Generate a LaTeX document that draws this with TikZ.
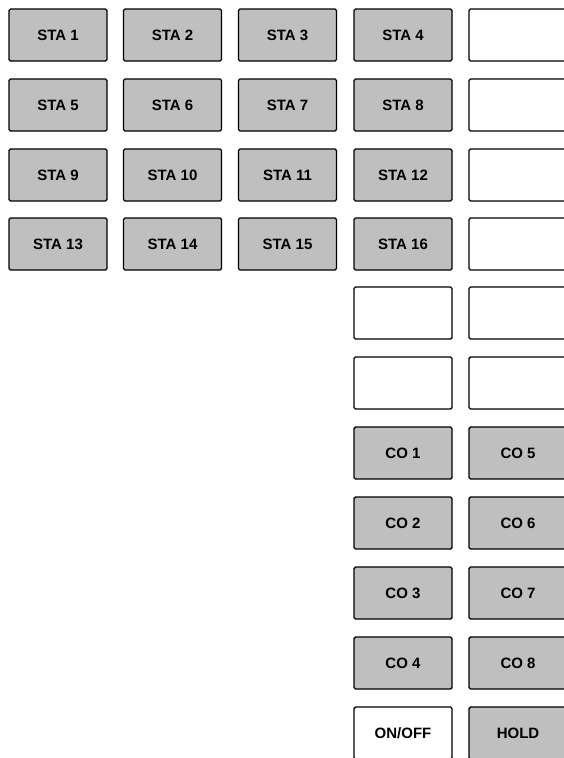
\documentclass[tikz,border=0pt]{standalone}
\usepackage{fontspec}
\setsansfont{Liberation Sans}
\usepackage{tikz}

\begin{document}
\begin{tikzpicture}[x=1pt,y=-1pt]

    \clip (0,0) rectangle (564,758);
    \tikzstyle{every node}=[draw,rectangle,rounded corners=1.5pt,line width=1.4pt,minimum width=98pt,minimum height=52pt,inner sep=0pt,font=\sffamily\bfseries\fontsize{15}{15}\selectfont]
    \tikzstyle{key}=[fill=black!25]
    \tikzstyle{blank}=[fill=white]

    % station keys
    \node[key](sta1) at (58,35){STA 1};
    \node[key](sta2) at (172.5,35){STA 2};
    \node[key](sta3) at (287.5,35){STA 3};
    \node[key](sta4) at (403,35){STA 4};
    \node[blank](b1) at (518,35){};

    \node[key](sta5) at (58,105){STA 5};
    \node[key](sta6) at (172.5,105){STA 6};
    \node[key](sta7) at (287.5,105){STA 7};
    \node[key](sta8) at (403,105){STA 8};
    \node[blank](b2) at (518,105){};

    \node[key](sta9) at (58,175){STA 9};
    \node[key](sta10) at (172.5,175){STA 10};
    \node[key](sta11) at (287.5,175){STA 11};
    \node[key](sta12) at (403,175){STA 12};
    \node[blank](b3) at (518,175){};

    \node[key](sta13) at (58,244){STA 13};
    \node[key](sta14) at (172.5,244){STA 14};
    \node[key](sta15) at (287.5,244){STA 15};
    \node[key](sta16) at (403,244){STA 16};
    \node[blank](b4) at (518,244){};

    % spare keys
    \node[blank](b5) at (403,313){};
    \node[blank](b6) at (518,313){};
    \node[blank](b7) at (403,383){};
    \node[blank](b8) at (518,383){};

    % trunk keys
    \node[key](co1) at (403,453){CO 1};
    \node[key](co5) at (518,453){CO 5};
    \node[key](co2) at (403,523){CO 2};
    \node[key](co6) at (518,523){CO 6};
    \node[key](co3) at (403,593){CO 3};
    \node[key](co7) at (518,593){CO 7};
    \node[key](co4) at (403,663){CO 4};
    \node[key](co8) at (518,663){CO 8};

    \node[blank](onoff) at (403,733){ON/OFF};
    \node[key](hold) at (518,733){HOLD};

\end{tikzpicture}
\end{document}
